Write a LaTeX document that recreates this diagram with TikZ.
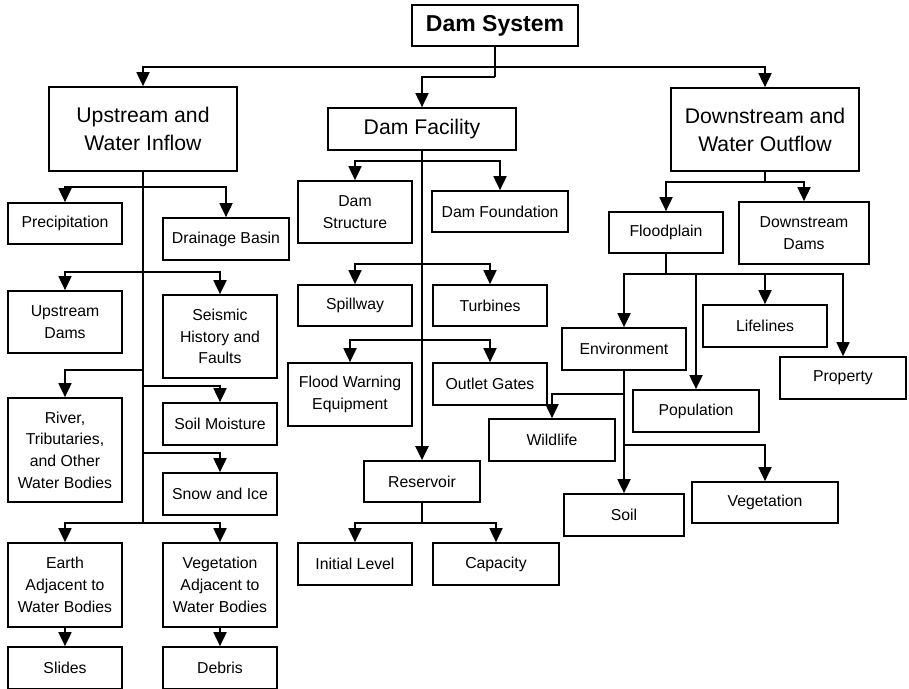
\documentclass[tikz,border=0pt]{standalone}
\usepackage{fontspec}
\setmainfont{Liberation Sans}
\usetikzlibrary{arrows.meta}
\begin{document}
\begin{tikzpicture}[x=1pt,y=-1pt,
  box/.style={draw, line width=1.7pt, inner sep=0pt, align=center,
    font=\fontsize{15.8}{21.7}\selectfont},
  bigbox/.style={box, font=\fontsize{21.2}{28}\selectfont},
  titlebox/.style={box, font=\fontsize{23}{28}\bfseries\selectfont},
  link/.style={line width=1.8pt},
  trunk/.style={line width=2.4pt},
  tip/.style={-{Triangle[length=14pt,width=13pt]}},
  arr/.style={link, tip}
]
\fill[white] (0,0) rectangle (909,688);
\useasboundingbox (0,0) rectangle (909,688);

% ---------- top level ----------
\node[titlebox, minimum width=166pt, minimum height=41pt] (sys) at (495,25.5) {Dam System};
\node[bigbox, minimum width=188pt, minimum height=84pt] (up) at (143,129) {Upstream and\\Water Inflow};
\node[bigbox, minimum width=188pt, minimum height=42pt] (fac) at (422,129) {Dam Facility};
\node[bigbox, minimum width=188pt, minimum height=83pt] (down) at (765,129.5) {Downstream and\\Water Outflow};

\coordinate (j0) at (495,67);
\coordinate (j1) at (495,77);
\draw[link] (sys.south) -- (j1);
\draw[arr] (j0) -| (up.north);
\draw[arr] (j0) -| (down.north);
\draw[arr] (j1) -| (fac.north);

% ---------- upstream branch ----------
\node[box, minimum width=114pt, minimum height=41pt] (precip) at (65,223.5) {Precipitation};
\node[box, minimum width=126pt, minimum height=42pt] (drain) at (226,239) {Drainage Basin};
\node[box, minimum width=114pt, minimum height=62pt] (updams) at (65,322) {Upstream\\Dams};
\node[box, minimum width=114pt, minimum height=83pt] (seis) at (220,336.5) {Seismic\\History and\\Faults};
\node[box, minimum width=114pt, minimum height=104pt] (river) at (65,450) {River,\\Tributaries,\\and Other\\Water Bodies};
\node[box, minimum width=114pt, minimum height=42pt] (soilm) at (220,424) {Soil Moisture};
\node[box, minimum width=114pt, minimum height=42pt] (snow) at (220,494) {Snow and Ice};
\node[box, minimum width=114pt, minimum height=84pt] (earth) at (65,585) {Earth\\Adjacent to\\Water Bodies};
\node[box, minimum width=114pt, minimum height=84pt] (vegadj) at (220,585) {Vegetation\\Adjacent to\\Water Bodies};
\node[box, minimum width=114pt, minimum height=42pt] (slides) at (65,668) {Slides};
\node[box, minimum width=114pt, minimum height=42pt] (debris) at (220,668) {Debris};

\coordinate (u1) at (143,187);
\coordinate (u2) at (143,272);
\coordinate (u3) at (143,370);
\coordinate (u4) at (143,386);
\coordinate (u5) at (143,453);
\coordinate (u6) at (143,523);
\draw[trunk] (up.south) -- (u6);
\draw[arr] (u1) -| (precip.north);
\draw[arr] (u1) -| (drain.north);
\draw[arr] (u2) -| (updams.north);
\draw[arr] (u2) -| (seis.north);
\draw[arr] (u3) -| (river.north);
\draw[arr] (u4) -| (soilm.north);
\draw[arr] (u5) -| (snow.north);
\draw[arr] (u6) -| (earth.north);
\draw[arr] (u6) -| (vegadj.north);
\draw[arr] (earth.south) -- (slides.north);
\draw[arr] (vegadj.south) -- (debris.north);

% ---------- dam facility branch ----------
\node[box, minimum width=114pt, minimum height=62pt] (struct) at (355,212) {Dam\\Structure};
\node[box, minimum width=136pt, minimum height=41pt] (found) at (500,211.5) {Dam Foundation};
\node[box, minimum width=114pt, minimum height=41pt] (spill) at (355,305.5) {Spillway};
\node[box, minimum width=114pt, minimum height=41pt] (turb) at (490,305.5) {Turbines};
\node[box, minimum width=124pt, minimum height=63pt] (warn) at (350,394.5) {Flood Warning\\Equipment};
\node[box, minimum width=114pt, minimum height=42pt] (gates) at (490,384) {Outlet Gates};
\node[box, minimum width=116pt, minimum height=41pt] (res) at (422,481.5) {Reservoir};
\node[box, minimum width=114pt, minimum height=42pt] (init) at (355,564) {Initial Level};
\node[box, minimum width=126pt, minimum height=42pt] (cap) at (496,564) {Capacity};

\coordinate (f1) at (422,161);
\coordinate (f2) at (422,264);
\coordinate (f3) at (422,340);
\coordinate (f4) at (422,523);
\draw[trunk, tip] (fac.south) -- (res.north);
\draw[arr] (f1) -| (struct.north);
\draw[arr] (f1) -| (found.north);
\draw[arr] (f2) -| (spill.north);
\draw[arr] (f2) -| (turb.north);
\draw[arr] (f3) -| (warn.north);
\draw[arr] (f3) -| (gates.north);
\draw[link] (res.south) -- (f4);
\draw[arr] (f4) -| (init.north);
\draw[arr] (f4) -| (cap.north);

% ---------- downstream branch ----------
\node[box, minimum width=114pt, minimum height=41pt] (flood) at (666,232.5) {Floodplain};
\node[box, minimum width=130pt, minimum height=62pt] (ddams) at (804,233) {Downstream\\Dams};
\node[box, minimum width=124pt, minimum height=42pt] (env) at (624,349) {Environment};
\node[box, minimum width=124pt, minimum height=42pt] (life) at (765,326) {Lifelines};
\node[box, minimum width=126pt, minimum height=42pt] (prop) at (843,378) {Property};
\node[box, minimum width=126pt, minimum height=42pt] (pop) at (696,411) {Population};
\node[box, minimum width=126pt, minimum height=42pt] (wild) at (552,440) {Wildlife};
\node[box, minimum width=146pt, minimum height=41pt] (veg) at (765,502.5) {Vegetation};
\node[box, minimum width=120pt, minimum height=42pt] (soil) at (624,515) {Soil};

\coordinate (d1) at (765,182);
\coordinate (d2) at (666,274);
\coordinate (e1) at (624,394);
\coordinate (e2) at (624,445);
\draw[link] (down.south) -- (d1);
\draw[arr] (d1) -| (flood.north);
\draw[arr] (d1) -| (ddams.north);
\draw[link] (flood.south) -- (d2);
\draw[arr] (d2) -| (env.north);
\draw[arr] (d2) -| (pop.north);
\draw[arr] (d2) -| (life.north);
\draw[arr] (d2) -| (prop.north);
\draw[arr] (env.south) -- (soil.north);
\draw[arr] (e1) -| (wild.north);
\draw[arr] (e2) -| (veg.north);
\end{tikzpicture}
\end{document}
